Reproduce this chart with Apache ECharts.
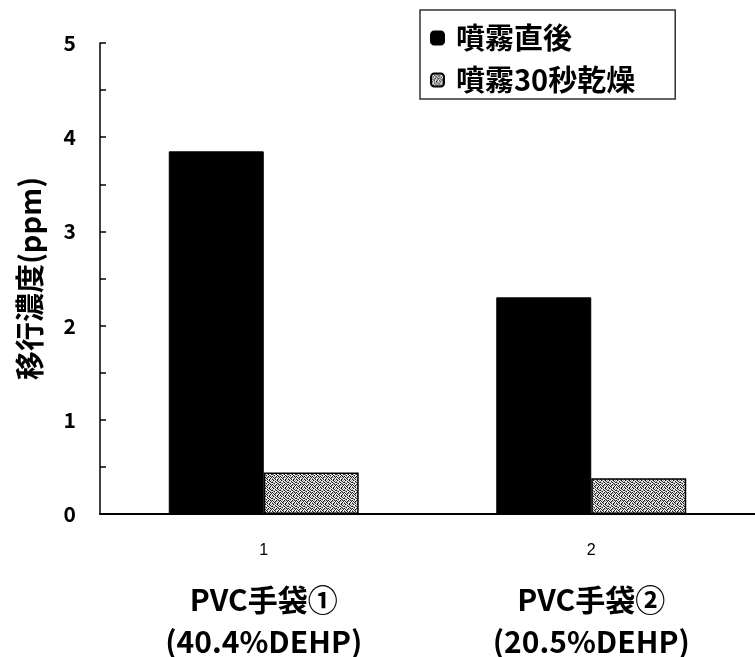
<!DOCTYPE html>
<html><head><meta charset="utf-8">
<script src="https://cdn.jsdelivr.net/npm/echarts@6/dist/echarts.min.js"></script>
<style>html,body{margin:0;padding:0;background:#fff}#c{width:755px;height:657px}</style>
</head><body><div id="c"></div>
<script>
const categories = ['1', '2'];
const categoryNames = ['PVC手袋①', 'PVC手袋②'];
const categorySubs = ['(40.4%DEHP)', '(20.5%DEHP)'];
const seriesNames = ['噴霧直後', '噴霧30秒乾燥'];
const afterSpray = [3.85, 2.30];
const after30s = [0.44, 0.38];
const yLabelValues = [0, 1, 2, 3, 4, 5];

// fixed dithered speckle pattern (0 = black, 1 = gray, 2 = white)
const bitmap = [
  '20121021',
  '12202102',
  '01210220',
  '21022012',
  '02120201',
  '20201120',
  '12012202',
  '01202012'
];
const shades = ['#222', '#9a9a9a', '#f4f4f4'];
const pc = document.createElement('canvas');
pc.width = 8; pc.height = 8;
const pctx = pc.getContext('2d');
bitmap.forEach((row, y) => row.split('').forEach((c, x) => {
  pctx.fillStyle = shades[+c]; pctx.fillRect(x, y, 1, 1);
}));

const font = '"Noto Sans CJK JP", "Noto Sans", sans-serif';
const chart = echarts.init(document.getElementById('c'));
chart.setOption({
  animation: false,
  backgroundColor: '#fff',
  textStyle: { fontFamily: font, color: '#000' },
  grid: { left: 100, right: 0, top: 43, bottom: 143, outerBoundsMode: 'none', containLabel: false },
  legend: {
    orient: 'vertical', left: 420, top: 10,
    padding: [13, 40, 4, 10],
    itemGap: 12,
    borderColor: '#333', borderWidth: 1.5,
    icon: 'roundRect', itemWidth: 13, itemHeight: 13,
    textStyle: { fontSize: 29, lineHeight: 30, fontWeight: 'bold', color: '#000', fontFamily: font, padding: [0, 0, 0, 7] },
    data: seriesNames
  },
  xAxis: {
    type: 'category', data: categories,
    axisLine: { lineStyle: { color: '#000', width: 2 } },
    axisTick: { show: false },
    axisLabel: {
      margin: 9,
      formatter: (v, i) => `{n|${v}}\n{t|${categoryNames[i]}}\n{t|${categorySubs[i]}}`,
      rich: {
        n: { fontSize: 16, color: '#000', fontFamily: '"Liberation Sans", sans-serif', lineHeight: 56 },
        t: { fontSize: 30, fontWeight: 'bold', color: '#000', fontFamily: font, lineHeight: 42 }
      }
    }
  },
  yAxis: {
    type: 'value', min: 0, max: 5, interval: 0.5,
    name: '移行濃度(ppm)', nameLocation: 'middle', nameGap: 56, nameRotate: 90,
    nameTextStyle: { fontSize: 29, fontWeight: 'bold', color: '#000', fontFamily: font },
    axisLine: { show: true, lineStyle: { color: '#000', width: 1.5 } },
    axisTick: { show: true, inside: true, length: 6, lineStyle: { color: '#000', width: 1.5 } },
    splitLine: { show: false },
    axisLabel: {
      margin: 24, fontSize: 21, fontWeight: 'bold', color: '#000', fontFamily: font,
      formatter: v => yLabelValues.includes(v) ? String(v) : ''
    }
  },
  series: [
    {
      name: seriesNames[0], type: 'bar', data: afterSpray,
      barGap: '0%', barCategoryGap: '42%',
      itemStyle: { color: '#000', borderColor: '#000', borderWidth: 1 }
    },
    {
      name: seriesNames[1], type: 'bar', data: after30s,
      itemStyle: { color: { image: pc, repeat: 'repeat' }, borderColor: '#000', borderWidth: 1.5 }
    }
  ]
});
</script></body></html>
